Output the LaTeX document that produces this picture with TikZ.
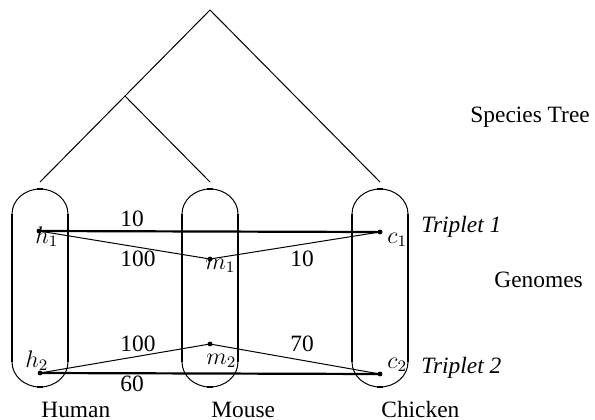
\documentclass[tikz,border=0pt]{standalone}
\usepackage[no-math]{fontspec}
\setmainfont{Liberation Serif}
\begin{document}
\begin{tikzpicture}[x=0.5pt,y=-0.5pt,
  thinline/.style={line width=0.5pt},
  thickline/.style={line width=1.1pt},
  side/.style={line width=1pt},
  tick/.style={line width=1.3pt},
  pt/.style={circle,fill=black,inner sep=0pt,minimum size=2.4pt},
  lbl/.style={anchor=base west,inner sep=0pt,font=\fontsize{11.7}{14}\selectfont},
  mlbl/.style={anchor=base west,inner sep=0pt,font=\fontsize{11.7}{14}\selectfont}]
\useasboundingbox (0,0) rectangle (595,419);

% species tree
\coordinate (root) at (210,10);
\coordinate (inner) at (125,96);
\coordinate (lh) at (40,182);
\coordinate (lm) at (210,182);
\coordinate (lc) at (380,182);
\draw[thinline] (lh) -- (inner) -- (root) -- (lc);
\draw[thinline] (inner) -- (lm);

% genome capsules
\foreach \cx in {40,210,380}{
  \draw[thinline] (\cx-28,214) arc[start angle=180,end angle=360,x radius=28,y radius=25];
  \draw[thinline] (\cx-28,362) arc[start angle=180,end angle=0,x radius=28,y radius=25];
  \draw[side] (\cx-28,214) -- (\cx-28,362);
  \draw[side] (\cx+28,214) -- (\cx+28,362);
  \draw[tick] (\cx-3,189) -- (\cx+3,189);
  \draw[tick] (\cx-3,387) -- (\cx+3,387);
}

% genes
\node[pt] (h1) at (39,231) {};
\node[pt] (m1) at (210,259) {};
\node[pt] (c1) at (380,232) {};
\node[pt] (h2) at (40,373) {};
\node[pt] (m2) at (210,344) {};
\node[pt] (c2) at (380,374) {};

\draw[thickline] (h1.center) -- (c1.center);
\draw[thinline] (h1.center) -- (m1.center) -- (c1.center);
\draw[thickline] (h2.center) -- (c2.center);
\draw[thinline] (h2.center) -- (m2.center) -- (c2.center);

% gene labels
\node[mlbl] (th1) at (35,243) {$h_1$};
\node[mlbl] (tm1) at (205,269) {$m_1$};
\node[mlbl] (tc1) at (387,243) {$c_1$};
\node[mlbl] (th2) at (25,367) {$h_2$};
\node[mlbl] (tm2) at (206,364) {$m_2$};
\node[mlbl] (tc2) at (387,368) {$c_2$};

% weights
\node[lbl] (w1) at (120,226) {10};
\node[lbl] (w2) at (120,266) {100};
\node[lbl] (w3) at (290,266) {10};
\node[lbl] (w4) at (120,351) {100};
\node[lbl] (w5) at (290,351) {70};
\node[lbl] (w6) at (120,391) {60};

% side texts
\node[lbl] (st) at (470,122) {Species Tree};
\node[lbl] (gn) at (494,287) {Genomes};
\node[lbl] (t1) at (421,232) {\itshape Triplet 1};
\node[lbl] (t2) at (421,373) {\itshape Triplet 2};

% species names
\node[lbl] (hu) at (41,417) {Human};
\node[lbl] (mo) at (211,417) {Mouse};
\node[lbl] (ch) at (381,417) {Chicken};
\end{tikzpicture}
\end{document}
